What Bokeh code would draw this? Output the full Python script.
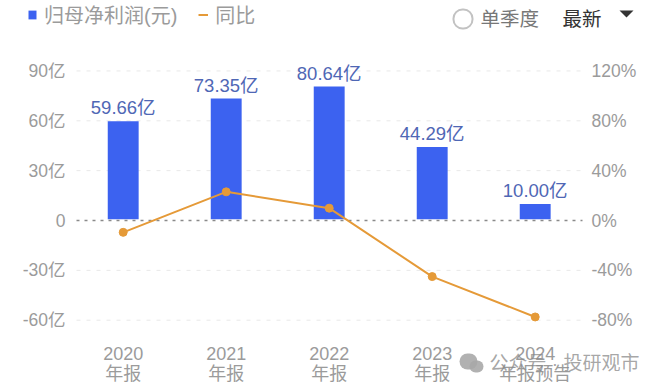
from bokeh.plotting import figure
from bokeh.models import (LinearAxis, Range1d, FixedTicker, Label, Legend, LegendItem,
                          ColumnDataSource, BoxAnnotation, PolyAnnotation)
from bokeh.core.properties import value
from bokeh.embed import file_html
from bokeh.resources import INLINE

periods = ["2020\n年报", "2021\n年报", "2022\n年报", "2023\n年报", "2024\n年报预告"]
profit = [59.66, 73.35, 80.64, 44.29, 10.00]
profit_labels = ["59.66亿", "73.35亿", "80.64亿", "44.29亿", "10.00亿"]
yoy = [-9.5, 23.0, 9.9, -45.0, -77.4]
left_ticks = [-60, -30, 0, 30, 60, 90]
left_labels = ["-60亿", "-30亿", "0", "30亿", "60亿", "90亿"]
right_ticks = [-80, -40, 0, 40, 80, 120]
right_labels = ["-80%", "-40%", "0%", "40%", "80%", "120%"]

FONT = "'Liberation Sans', 'Noto Sans CJK SC', sans-serif"
GREY = "#9b9b9b"
BLUE = "#3c62f0"
ORANGE = "#e59a38"

W, H = 660, 388
# pixel layout of the plot area
PX_CAT0, PX_CAT_STEP = 122.7, 103.0
PX_ZERO, PX_PER_30 = 220.0, 49.85
x_at = lambda px: (px - PX_CAT0) / PX_CAT_STEP
y_at = lambda py: (PX_ZERO - py) / PX_PER_30 * 30

xs = list(range(len(periods)))
p = figure(width=W, height=H, output_backend="svg", toolbar_location=None,
           x_range=Range1d(x_at(0), x_at(W)), y_range=Range1d(y_at(H), y_at(0)),
           min_border=0)
p.extra_y_ranges = {"pct": Range1d(y_at(H) * 4 / 3, y_at(0) * 4 / 3)}
p.outline_line_color = None
p.background_fill_color = "white"
p.border_fill_color = "white"
p.grid.visible = False

GX0, GX1 = x_at(76), x_at(582)
grid_ticks = [t for t in left_ticks if t != 0]
p.segment(x0=[GX0] * len(grid_ticks), x1=[GX1] * len(grid_ticks), y0=grid_ticks, y1=grid_ticks,
          line_color="#e8e8e8", line_dash="4 6", line_width=1)

def style(ax, size="17.5px"):
    ax.axis_line_color = None
    ax.major_tick_line_color = None
    ax.minor_tick_line_color = None
    ax.major_label_text_color = GREY
    ax.major_label_text_font = FONT
    ax.major_label_text_font_size = size

ax = p.xaxis[0]
style(ax, "18px")
ax.fixed_location = y_at(326)
ax.ticker = FixedTicker(ticks=xs)
ax.major_label_overrides = {i: s for i, s in enumerate(periods)}
ax.major_label_standoff = 11
ax.major_label_text_line_height = 1.0

ay = p.yaxis[0]
style(ay)
ay.fixed_location = GX0
ay.ticker = FixedTicker(ticks=left_ticks)
ay.major_label_overrides = dict(zip(left_ticks, left_labels))
ay.major_label_standoff = 5

ar = LinearAxis(y_range_name="pct", fixed_location=GX1)
style(ar)
ar.ticker = FixedTicker(ticks=right_ticks)
ar.major_label_overrides = dict(zip(right_ticks, right_labels))
ar.major_label_standoff = 3
p.add_layout(ar, "right")

src = ColumnDataSource(dict(x=xs, profit=profit, yoy=yoy, lab=profit_labels))
bars = p.vbar(x="x", top="profit", bottom=0.8, width=0.3, source=src, fill_color=BLUE, line_color=None)
p.segment(x0=[GX0], x1=[GX1], y0=[0], y1=[0], line_color="#8a8a8a", line_dash="3 5", line_width=1.3)
line = p.line(x="x", y="yoy", source=src, y_range_name="pct", line_color=ORANGE, line_width=2)
p.scatter(x="x", y="yoy", source=src, y_range_name="pct", size=8, fill_color=ORANGE, line_color=ORANGE)
p.text(x="x", y="profit", text="lab", source=src, text_align="center", text_baseline="bottom",
       y_offset=-3, text_color="#4f67b5", text_font=value(FONT), text_font_size="18.5px")

legend = Legend(items=[LegendItem(label="归母净利润(元)", renderers=[bars]),
                       LegendItem(label="同比", renderers=[line])],
                orientation="horizontal", location=(27, H - 29), background_fill_alpha=0,
                border_line_color=None, label_text_color=GREY, label_text_font=FONT,
                label_text_font_size="20px", glyph_width=10, glyph_height=11,
                spacing=21, label_standoff=7, padding=0, margin=0)
p.add_layout(legend, "center")

def canvas_label(x, y, text, size, color, alpha=1.0):
    p.add_layout(Label(x=x, y=y, x_units="canvas", y_units="canvas", text=text, text_color=color,
                       text_font=FONT, text_font_size=size, text_alpha=alpha,
                       text_baseline="middle", text_align="left"))

def dot(l, t, r, b, fill, line=None, alpha=1.0, lw=1.5):
    p.add_layout(BoxAnnotation(left=l, right=r, top=t, bottom=b, left_units="canvas", right_units="canvas",
                               top_units="canvas", bottom_units="canvas", fill_color=fill, fill_alpha=alpha,
                               line_color=line, line_alpha=1.0, line_width=lw, border_radius=(r - l) // 2))

dot(453, 9, 472, 28, "white", "#c2c2c2", lw=2)
canvas_label(480, 18, "单季度", "19.5px", "#777777")
canvas_label(562, 18, "最新", "19.5px", "#333333")
p.add_layout(PolyAnnotation(xs=[619, 633, 626], ys=[10, 10, 17], xs_units="canvas", ys_units="canvas",
                            fill_color="#333333", fill_alpha=1, line_color=None))

# watermark
dot(459, 353, 477, 369, "#a8a8a8", alpha=0.9)
dot(469, 360, 483, 372, "#a8a8a8", alpha=0.9)
canvas_label(489, 363, "公众号 · 投研观市", "19px", "#8a8a8a", 0.75)

open("out.html", "w").write(file_html(p, INLINE))
